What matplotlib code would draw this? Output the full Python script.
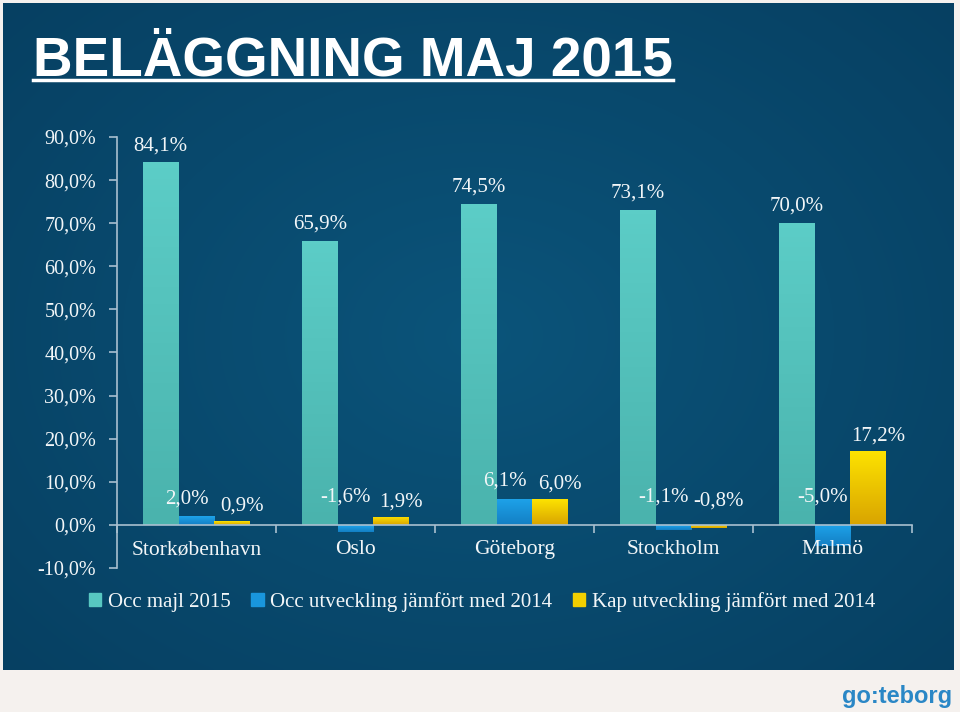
import numpy as np
import matplotlib
matplotlib.use("Agg")
import matplotlib.pyplot as plt
from matplotlib.patches import Rectangle
from matplotlib.lines import Line2D

categories = ["Storkøbenhavn", "Oslo", "Göteborg", "Stockholm", "Malmö"]
occ_2015 = [84.1, 65.9, 74.5, 73.1, 70.0]
occ_change = [2.0, -1.6, 6.1, -1.1, -5.0]
kap_change = [0.9, 1.9, 6.0, -0.8, 17.2]
series_names = ["Occ majl 2015", "Occ utveckling jämfört med 2014",
                "Kap utveckling jämfört med 2014"]
yticks = [-10, 0, 10, 20, 30, 40, 50, 60, 70, 80, 90]

def pct(v):
    return f"{v:.1f}%".replace(".", ",")

serif = ["Liberation Serif", "DejaVu Serif"]
plt.rcParams["font.family"] = serif

W, H = 960, 712
fig = plt.figure(figsize=(W / 100, H / 100), dpi=100)
fig.patch.set_facecolor("#f5f1ee")

# background panel with soft radial gradient
bg = fig.add_axes([3 / W, 1 - 670 / H, 951 / W, 667 / H])
bg.set_axis_off()
yy, xx = np.mgrid[0:1:300j, 0:1:400j]
r = np.sqrt(((xx - 0.5) / 0.75) ** 2 + ((yy - 0.5) / 0.8) ** 2)
r = np.clip(r, 0, 1)
c_in = np.array([11, 84, 122]) / 255
c_out = np.array([6, 62, 96]) / 255
img = c_in[None, None, :] * (1 - r[..., None]) + c_out[None, None, :] * r[..., None]
bg.imshow(img, aspect="auto", extent=[0, 1, 0, 1], interpolation="bicubic")
bg.set_xlim(0, 1)
bg.set_ylim(0, 1)

txt = "#f2f6f8"
axc = "#a9c0d0"

ax = fig.add_axes([117 / W, 1 - 568 / H, (912 - 117) / W, (568 - 137) / H])
ax.patch.set_alpha(0)
x = np.arange(len(categories))
bw = 0.225
colors = ["#57c7c1", "#1996dd", "#f2cf00"]

b1 = ax.bar(x - bw, occ_2015, bw, color=colors[0], zorder=3)
b2 = ax.bar(x, occ_change, bw, color=colors[1], zorder=3)
b3 = ax.bar(x + bw, kap_change, bw, color=colors[2], zorder=3)

# vertical gradients on bars
def grad(bars, top, bot):
    top = np.array(matplotlib.colors.to_rgb(top))
    bot = np.array(matplotlib.colors.to_rgb(bot))
    t = np.linspace(0, 1, 64)[:, None]
    g = (top * (1 - t) + bot * t)[:, None, :]
    for b in bars:
        x0, y0 = b.get_x(), b.get_y()
        w, h = b.get_width(), b.get_height()
        ylo, yhi = min(y0, y0 + h), max(y0, y0 + h)
        im = ax.imshow(g, extent=[x0, x0 + w, ylo, yhi], aspect="auto",
                       origin="upper", zorder=3.5)
        im.set_clip_path(b)

grad(b1, "#5ccdc7", "#4ab3ad")
grad(b2, "#1ea3ea", "#137fc4")
grad(b3, "#fde300", "#d9a400")

ax.set_xlim(-0.5, len(categories) - 0.5)
ax.set_ylim(-10, 90)

for xi, v in zip(x, occ_2015):
    ax.text(xi - bw, v + 1.7, pct(v), ha="center", va="bottom",
            color=txt, fontsize=15, zorder=5)
for xi, v in zip(x, occ_change):
    ax.text(xi - 0.06, max(v, 0) + (4.0 if v > 0 else 6.5), pct(v), ha="center",
            va="center", color=txt, fontsize=15, zorder=5)
for xi, v in zip(x, kap_change):
    ax.text(xi + bw + 0.06, max(v, 0) + (3.5 if v > 0 else 5.5), pct(v), ha="center",
            va="center", color=txt, fontsize=15, zorder=5)

ax.set_yticks(yticks)
ax.set_yticklabels([pct(v) for v in yticks])
ax.tick_params(axis="y", direction="out", length=6, color=axc, width=1.2, pad=9,
               labelsize=14.5, labelcolor=txt)
ax.set_xticks(x)
ax.set_xticklabels(categories)
ax.set_xticks(np.arange(len(categories) + 1) - 0.5, minor=True)
ax.tick_params(axis="x", which="major", length=0, pad=11, labelsize=15.5, labelcolor=txt)
ax.tick_params(axis="x", which="minor", direction="out", length=6, color=axc, width=1.2)
ax.xaxis.set_zorder(5)
for s in ["top", "right"]:
    ax.spines[s].set_visible(False)
ax.spines["bottom"].set_position(("data", 0))
ax.spines["bottom"].set_color(axc)
ax.spines["bottom"].set_linewidth(1.2)
ax.spines["left"].set_color(axc)
ax.spines["left"].set_linewidth(1.2)
ax.spines["bottom"].set_zorder(4)

handles = [Rectangle((0, 0), 1, 1, color=c) for c in colors]
fig.legend(handles, series_names, loc="center", bbox_to_anchor=(482 / W, 1 - 602 / H),
           ncol=3, frameon=False, labelcolor=txt,
           prop={"family": serif, "size": 15},
           handlelength=0.6, handleheight=0.6, handletextpad=0.3,
           columnspacing=1.0)

title = fig.text(33 / W, 1 - 75 / H, "BELÄGGNING MAJ 2015", ha="left", va="baseline",
                 color="white", fontsize=39.5, fontweight="bold",
                 family=["Liberation Sans", "DejaVu Sans"])
fig.canvas.draw()
bb = title.get_window_extent()
fig.add_artist(Line2D([bb.x0 / W, bb.x1 / W], [1 - 80 / H, 1 - 80 / H],
                      transform=fig.transFigure, color="white", lw=2.5))

fig.text(952 / W, 1 - 697 / H, "go:teborg", ha="right", va="center",
         color="#2a87c6", fontsize=17, fontweight="bold",
         family=["Liberation Sans", "DejaVu Sans"])

fig.savefig("out.png", dpi=100, facecolor=fig.get_facecolor())
